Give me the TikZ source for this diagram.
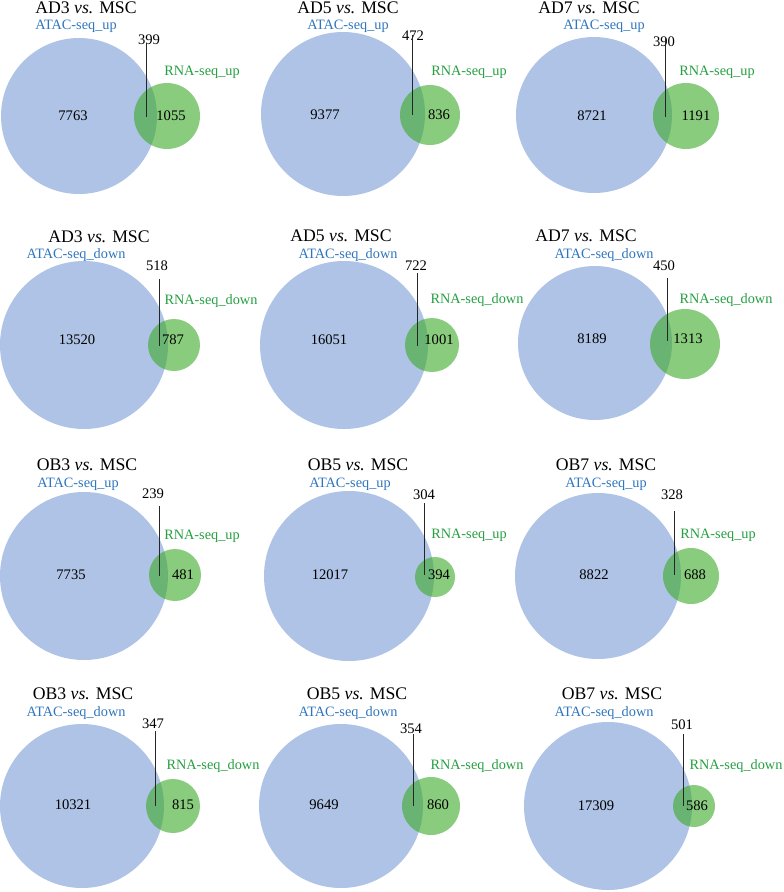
\documentclass[tikz,border=0pt]{standalone}
\usepackage{fontspec}
\setmainfont{Liberation Serif}
\usepackage{tikz}
\usetikzlibrary{positioning}
\definecolor{atacfillc}{RGB}{174,195,229}
\definecolor{atactextc}{RGB}{46,117,190}
\definecolor{rnafillc}{RGB}{60,170,40}
\definecolor{rnatextc}{RGB}{36,160,64}
\tikzset{
	titletext/.style={inner sep=0pt, font=\fontsize{17.7}{20}\selectfont},
	atactext/.style={inner sep=0pt, font=\fontsize{14.3}{16}\selectfont\color{atactextc}},
	rnatext/.style={inner sep=0pt, font=\fontsize{14.3}{16}\selectfont\color{rnatextc}},
	numtext/.style={inner sep=0pt, font=\fontsize{14.6}{16}\selectfont},
	atacset/.style={fill=atacfillc},
	rnaset/.style={fill=rnafillc, fill opacity=0.6},
	overlapline/.style={draw=black!85, line width=1pt}
}
\newcommand{\vs}[1]{#1 \textit{vs.} MSC}

\begin{document}
\begin{tikzpicture}[x=1pt,y=-1pt]
      \useasboundingbox (0,0) rectangle (784,892);
      % AD3 up
      \fill[atacset] (79,116) circle (78pt);
      \fill[rnaset] (167,116) circle (33pt);
      \node[titletext] (t1) at (86,8) {\vs{AD3}};
      \node[atactext] (a1) at (76,26) {ATAC-seq\_up};
      \node[rnatext] (r1) at (202,72) {RNA-seq\_up};
      \node[numtext] (n1) at (73,116) {7763};
      \node[numtext] (m1) at (171,116) {1055};
      \node[numtext] (o1) at (149,40) {399};
      \coordinate (q1) at (146,43);
      \coordinate (p1) at (146,117);
      \draw[overlapline] (q1) -- (p1);
      % AD5 up
      \fill[atacset] (343,114) circle (82pt);
      \fill[rnaset] (430,115) circle (30pt);
      \node[titletext] (t2) at (348,8) {\vs{AD5}};
      \node[atactext] (a2) at (348,26) {ATAC-seq\_up};
      \node[rnatext] (r2) at (469,72) {RNA-seq\_up};
      \node[numtext] (n2) at (325,115) {9377};
      \node[numtext] (m2) at (439,115) {836};
      \node[numtext] (o2) at (413,36) {472};
      \coordinate (q2) at (412,35);
      \coordinate (p2) at (412,115);
      \draw[overlapline] (q2) -- (p2);
      % AD7 up
      \fill[atacset] (594,115) circle (78pt);
      \fill[rnaset] (686,116) circle (33pt);
      \node[titletext] (t3) at (589,8) {\vs{AD7}};
      \node[atactext] (a3) at (604,26) {ATAC-seq\_up};
      \node[rnatext] (r3) at (717,72) {RNA-seq\_up};
      \node[numtext] (n3) at (592,116) {8721};
      \node[numtext] (m3) at (696,116) {1191};
      \node[numtext] (o3) at (664,42) {390};
      \coordinate (q3) at (665,37);
      \coordinate (p3) at (665,117);
      \draw[overlapline] (q3) -- (p3);
      % AD3 down
      \fill[atacset] (84,345) circle (84pt);
      \fill[rnaset] (174,345) circle (26pt);
      \node[titletext] (t4) at (99,237) {\vs{AD3}};
      \node[atactext] (a4) at (76,255) {ATAC-seq\_down};
      \node[rnatext] (r4) at (211,301) {RNA-seq\_down};
      \node[numtext] (n4) at (77,340) {13520};
      \node[numtext] (m4) at (173,340) {787};
      \node[numtext] (o4) at (157,266) {518};
      \coordinate (q4) at (159,279);
      \coordinate (p4) at (159,346);
      \draw[overlapline] (q4) -- (p4);
      % AD5 down
      \fill[atacset] (344,345) circle (84pt);
      \fill[rnaset] (432,345) circle (27pt);
      \node[titletext] (t5) at (341,236) {\vs{AD5}};
      \node[atactext] (a5) at (348,255) {ATAC-seq\_down};
      \node[rnatext] (r5) at (477,300) {RNA-seq\_down};
      \node[numtext] (n5) at (329,340) {16051};
      \node[numtext] (m5) at (439,340) {1001};
      \node[numtext] (o5) at (416,266) {722};
      \coordinate (q5) at (417,273);
      \coordinate (p5) at (417,346);
      \draw[overlapline] (q5) -- (p5);
      % AD7 down
      \fill[atacset] (595,343) circle (77pt);
      \fill[rnaset] (685,344) circle (35pt);
      \node[titletext] (t6) at (586,236) {\vs{AD7}};
      \node[atactext] (a6) at (604,255) {ATAC-seq\_down};
      \node[rnatext] (r6) at (726,300) {RNA-seq\_down};
      \node[numtext] (n6) at (592,339) {8189};
      \node[numtext] (m6) at (688,339) {1313};
      \node[numtext] (o6) at (664,266) {450};
      \coordinate (q6) at (667,278);
      \coordinate (p6) at (667,341);
      \draw[overlapline] (q6) -- (p6);
      % OB3 up
      \fill[atacset] (84,576) circle (84pt);
      \fill[rnaset] (175,575) circle (26pt);
      \node[titletext] (t7) at (87,465) {\vs{OB3}};
      \node[atactext] (a7) at (78,484) {ATAC-seq\_up};
      \node[rnatext] (r7) at (202,536) {RNA-seq\_up};
      \node[numtext] (n7) at (71,575) {7735};
      \node[numtext] (m7) at (183,575) {481};
      \node[numtext] (o7) at (153,494) {239};
      \coordinate (q7) at (159,506);
      \coordinate (p7) at (159,576);
      \draw[overlapline] (q7) -- (p7);
      % OB5 up
      \fill[atacset] (349,576) circle (85pt);
      \fill[rnaset] (435,577) circle (20pt);
      \node[titletext] (t8) at (358,465) {\vs{OB5}};
      \node[atactext] (a8) at (350,484) {ATAC-seq\_up};
      \node[rnatext] (r8) at (469,535) {RNA-seq\_up};
      \node[numtext] (n8) at (330,575) {12017};
      \node[numtext] (m8) at (439,575) {394};
      \node[numtext] (o8) at (424,495) {304};
      \coordinate (q8) at (424,503);
      \coordinate (p8) at (424,575);
      \draw[overlapline] (q8) -- (p8);
      % OB7 up
      \fill[atacset] (598,576) circle (83pt);
      \fill[rnaset] (691,576) circle (28pt);
      \node[titletext] (t9) at (606,465) {\vs{OB7}};
      \node[atactext] (a9) at (606,484) {ATAC-seq\_up};
      \node[rnatext] (r9) at (718,535) {RNA-seq\_up};
      \node[numtext] (n9) at (594,575) {8822};
      \node[numtext] (m9) at (695,575) {688};
      \node[numtext] (o9) at (672,495) {328};
      \coordinate (q9) at (674,511);
      \coordinate (p9) at (674,575);
      \draw[overlapline] (q9) -- (p9);
      % OB3 down
      \fill[atacset] (82,806) circle (82pt);
      \fill[rnaset] (173,806) circle (27pt);
      \node[titletext] (t10) at (83,694) {\vs{OB3}};
      \node[atactext] (a10) at (76,713) {ATAC-seq\_down};
      \node[rnatext] (r10) at (213,766) {RNA-seq\_down};
      \node[numtext] (n10) at (73,805) {10321};
      \node[numtext] (m10) at (183,805) {815};
      \node[numtext] (o10) at (153,724) {347};
      \coordinate (q10) at (155,731);
      \coordinate (p10) at (155,806);
      \draw[overlapline] (q10) -- (p10);
      % OB5 down
      \fill[atacset] (341,806) circle (82pt);
      \fill[rnaset] (431,806) circle (29pt);
      \node[titletext] (t11) at (357,694) {\vs{OB5}};
      \node[atactext] (a11) at (348,713) {ATAC-seq\_down};
      \node[rnatext] (r11) at (477,766) {RNA-seq\_down};
      \node[numtext] (n11) at (324,805) {9649};
      \node[numtext] (m11) at (438,805) {860};
      \node[numtext] (o11) at (411,729) {354};
      \coordinate (q11) at (413,734);
      \coordinate (p11) at (413,806);
      \draw[overlapline] (q11) -- (p11);
      % OB7 down
      \fill[atacset] (608,806) circle (84pt);
      \fill[rnaset] (694,806) circle (21pt);
      \node[titletext] (t12) at (612,694) {\vs{OB7}};
      \node[atactext] (a12) at (604,713) {ATAC-seq\_down};
      \node[rnatext] (r12) at (736,766) {RNA-seq\_down};
      \node[numtext] (n12) at (596,806) {17309};
      \node[numtext] (m12) at (697,806) {586};
      \node[numtext] (o12) at (682,725) {501};
      \coordinate (q12) at (683,734);
      \coordinate (p12) at (683,806);
      \draw[overlapline] (q12) -- (p12);
    \end{tikzpicture}
\end{document}
